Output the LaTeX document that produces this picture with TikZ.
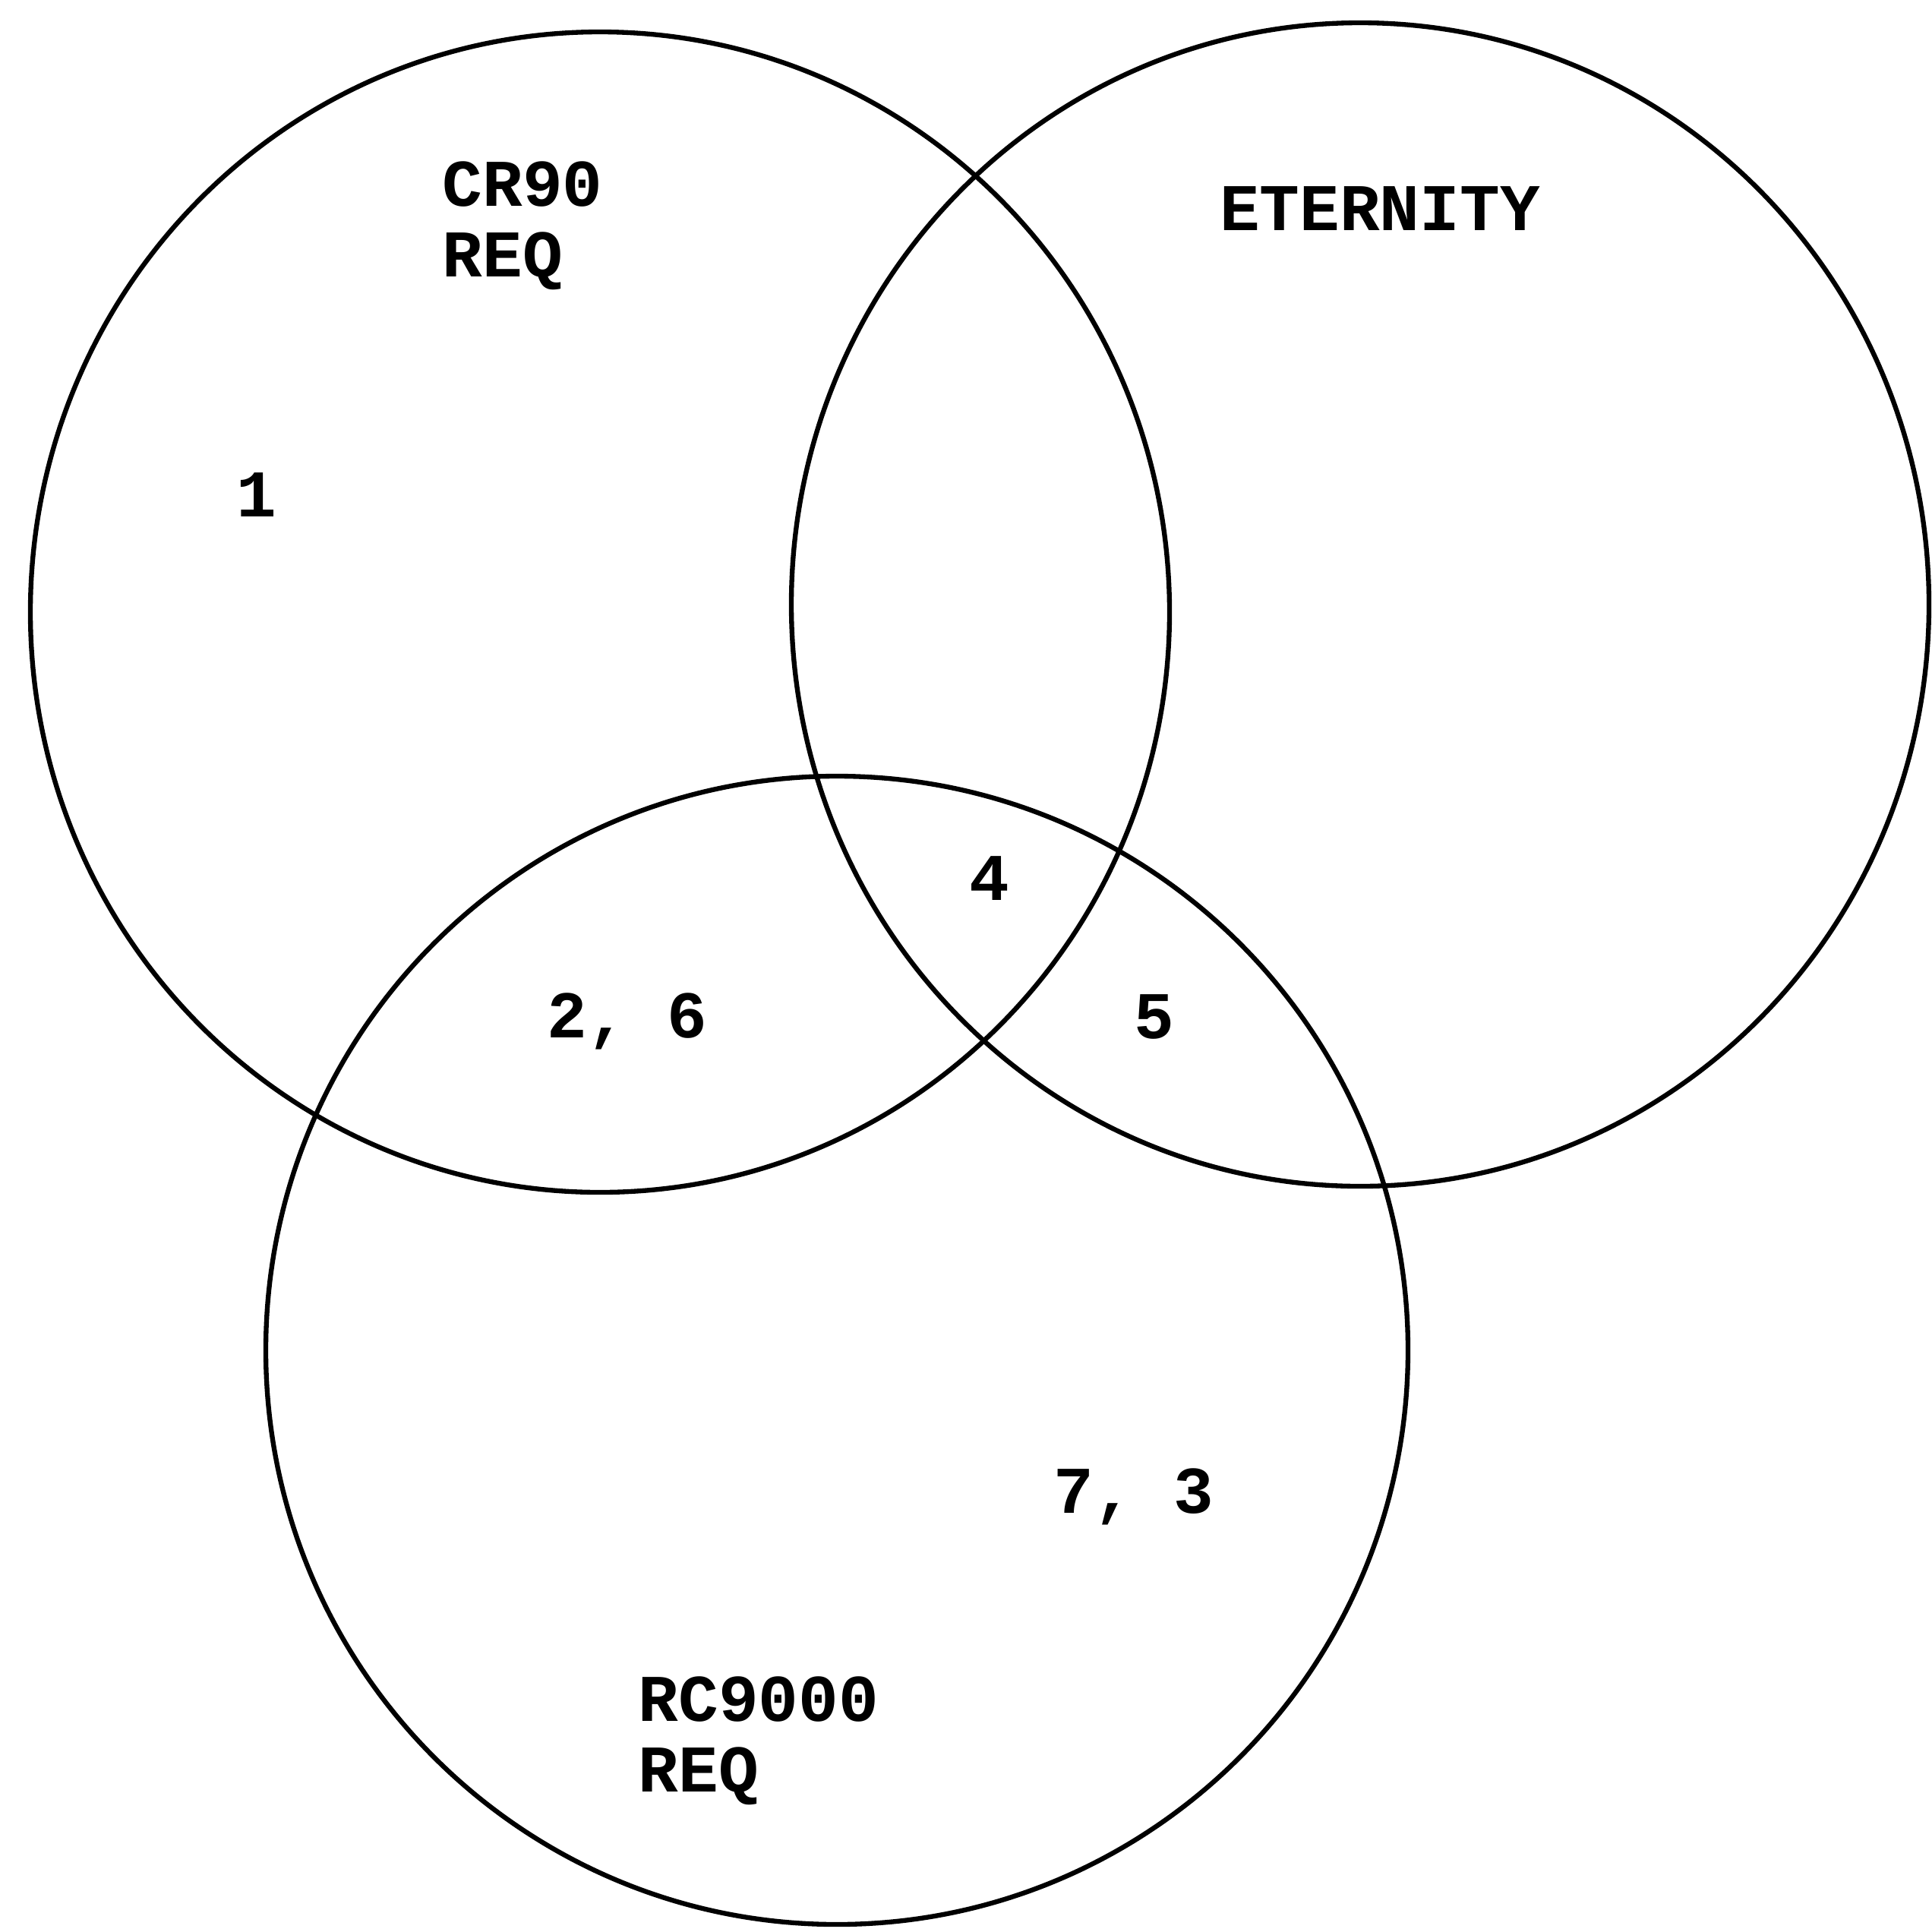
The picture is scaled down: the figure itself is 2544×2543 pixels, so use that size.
\documentclass[tikz,border=0pt]{standalone}
\usepackage{fontspec}
\newfontfamily\typewr{Liberation Mono}
\begin{document}
\begin{tikzpicture}[
    x=0.1mm, y=-0.1mm,
    every node/.style={font=\typewr\bfseries\fontsize{25pt}{26.5pt}\selectfont, inner sep=0pt},
    setname/.style={align=left, anchor=north west},
    region/.style={anchor=base},
    ring/.style={line width=1.8pt}
]
\useasboundingbox (0,0) rectangle (2544,2543);
% Sets
\coordinate (cr) at (790, 806);
\coordinate (et) at (1791, 796);
\coordinate (rc) at (1102, 1778);
\draw[ring] (cr) ellipse [x radius=750, y radius=764];
\draw[ring] (et) ellipse [x radius=749, y radius=766];
\draw[ring] (rc) ellipse [x radius=752, y radius=756];

% Set names
\node[setname] (crname) at (582, 212) {CR90\\REQ};
\node[setname] (rcname) at (840, 2207) {RC9000\\REQ};
\node[region] (etname) at (1817, 303) {ETERNITY};

% Regions
\node[region] (r1) at (338, 680) {1};
\node[region] (r4) at (1303, 1185) {4};
\node[region] (r26) at (826, 1366) {2, 6};
\node[region] (r5) at (1520, 1367) {5};
\node[region] (r73) at (1493, 1992) {7, 3};
\end{tikzpicture}
\end{document}
